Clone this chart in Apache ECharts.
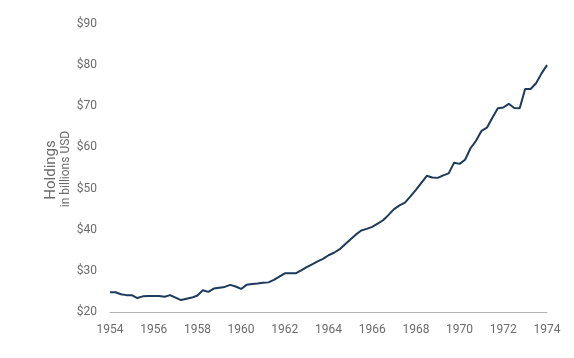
<!DOCTYPE html>
<html>
<head>
<meta charset="utf-8">
<script src="https://cdn.jsdelivr.net/npm/echarts@6/dist/echarts.min.js"></script>
<style>
html,body{margin:0;padding:0;background:#fff;}
#chart{width:574px;height:358px;}
</style>
</head>
<body>
<div id="chart"></div>
<script>
// Quarterly observations, 1954 Q1 through 1974 Q1 (billions USD)
var startYear = 1954;
var holdings = [
  24.8, 24.8, 24.3, 24.1, 24.1, 23.4, 23.8, 23.9,
  23.9, 23.9, 23.7, 24.1, 23.5, 22.9, 23.2, 23.5,
  24.0, 25.3, 24.9, 25.7, 25.9, 26.1, 26.6, 26.2,
  25.6, 26.6, 26.8, 26.9, 27.1, 27.2, 27.8, 28.6,
  29.4, 29.4, 29.4, 30.1, 30.9, 31.6, 32.3, 32.9,
  33.8, 34.4, 35.2, 36.4, 37.6, 38.8, 39.8, 40.2,
  40.7, 41.5, 42.3, 43.6, 45.0, 45.9, 46.6, 48.1,
  49.7, 51.4, 53.1, 52.7, 52.6, 53.2, 53.7, 56.3,
  56.0, 57.0, 59.8, 61.6, 64.0, 64.8, 67.2, 69.5,
  69.7, 70.6, 69.6, 69.5, 74.2, 74.2, 75.6, 78.0,
  80.0
];
var yearTicks = [1954, 1956, 1958, 1960, 1962, 1964, 1966, 1968, 1970, 1972, 1974];
var valueTicks = [20, 30, 40, 50, 60, 70, 80, 90];
var axisTitle = 'Holdings';
var axisSubtitle = 'in billions USD';

var seriesData = holdings.map(function (v, i) { return [startYear + i / 4, v]; });
var FONT = 'Roboto, sans-serif';

var chart = echarts.init(document.getElementById('chart'), null, {renderer: 'canvas'});
chart.setOption({
  animation: false,
  backgroundColor: '#ffffff',
  grid: {left: 110, right: 27, top: 24, bottom: 46, containLabel: false},
  xAxis: {
    type: 'value',
    min: yearTicks[0],
    max: yearTicks[yearTicks.length - 1],
    interval: 2,
    axisLine: {show: true, lineStyle: {color: '#b3b3b3', width: 1}},
    axisTick: {show: false},
    splitLine: {show: false},
    axisLabel: {color: '#6b6b6b', fontSize: 12, fontFamily: FONT, margin: 12,
      formatter: function (v) { return String(v); }}
  },
  yAxis: {
    type: 'value',
    min: valueTicks[0],
    max: valueTicks[valueTicks.length - 1],
    interval: 10,
    axisLine: {show: false},
    axisTick: {show: false},
    splitLine: {show: false},
    axisLabel: {color: '#6b6b6b', fontSize: 12, fontFamily: FONT, margin: 13,
      formatter: function (v) { return '$' + v; }}
  },
  graphic: [
    {type: 'text', x: 51, y: 170, rotation: Math.PI / 2,
      style: {text: axisTitle, fill: '#6b6b6b', font: '15px ' + FONT, textAlign: 'center', textVerticalAlign: 'middle'}},
    {type: 'text', x: 66, y: 169, rotation: Math.PI / 2,
      style: {text: axisSubtitle, fill: '#6b6b6b', font: '12px ' + FONT, textAlign: 'center', textVerticalAlign: 'middle'}}
  ],
  series: [{
    type: 'line',
    data: seriesData,
    showSymbol: false,
    symbol: 'none',
    lineStyle: {color: '#1b3a5c', width: 2},
    itemStyle: {color: '#1b3a5c'}
  }]
});
</script>
</body>
</html>
